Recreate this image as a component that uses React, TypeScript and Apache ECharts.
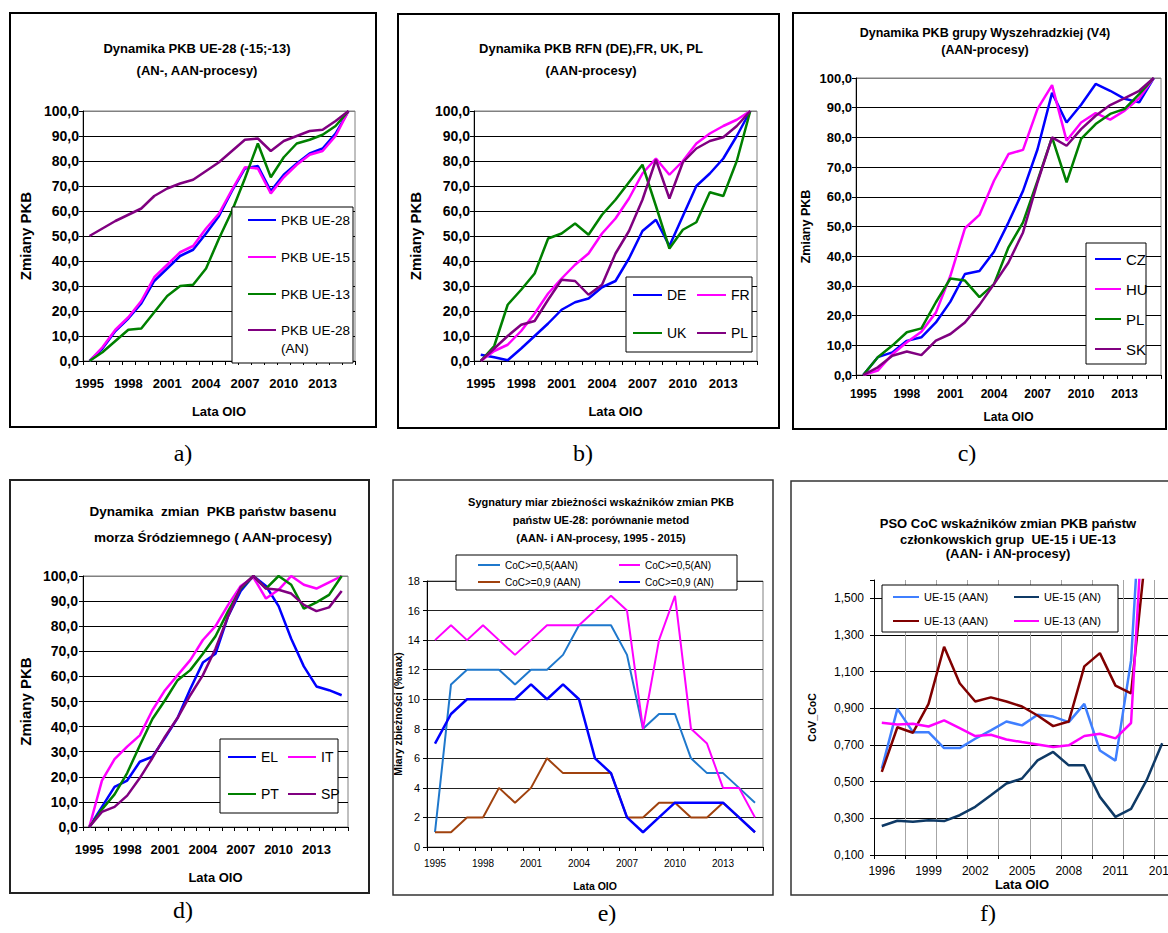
import React, { useEffect, useRef } from 'react';
import * as echarts from 'echarts';

const SANS = "'Liberation Sans', Arial, sans-serif";
const SERIF = "'Liberation Serif', 'Times New Roman', serif";

// ---------- categories ----------
const years95 = ['1995', '1996', '1997', '1998', '1999', '2000', '2001', '2002', '2003', '2004', '2005', '2006', '2007', '2008', '2009', '2010', '2011', '2012', '2013', '2014', '2015'];
const years96 = ['1996', '1997', '1998', '1999', '2000', '2001', '2002', '2003', '2004', '2005', '2006', '2007', '2008', '2009', '2010', '2011', '2012', '2013', '2014'];

// ---------- a) ----------
const aUE28 = [0, 5, 12, 17, 23, 32, 37, 42, 44.5, 51, 58, 68, 77, 78, 68, 74.5, 79, 83, 85, 91, 100];
const aUE15 = [0, 5.5, 12.5, 17.5, 24, 33.5, 38.5, 43.5, 46, 53, 59, 68.5, 77.5, 77, 67, 73.5, 78.5, 82.5, 84, 90, 100];
const aUE13 = [0, 3.5, 8, 12.5, 13, 19.5, 26, 30, 30.5, 37, 49, 60, 73, 87, 73.5, 81.5, 87, 88.5, 90.5, 94, 100];
const aUE28AN = [50, 53, 56, 58.5, 61, 66, 69, 71, 72.5, 76, 79.5, 84, 88.5, 89, 84, 88, 90, 92, 92.5, 96, 100];

// ---------- b) ----------
const bDE = [2.5, 1.5, 0.3, 5, 10, 15, 20.5, 23.5, 25, 29.5, 32, 41, 52, 56.5, 46, 58, 70, 75, 81, 90, 100];
const bFR = [0, 4, 6.5, 12, 19, 27, 33, 38.5, 43, 51, 57, 65, 75, 81, 74.5, 80, 87, 91, 94, 96.5, 100];
const bUK = [0, 6, 22.5, 28.5, 35, 49, 51, 55, 50.5, 58.5, 64.5, 71.5, 78.5, 62, 45, 52.5, 55.5, 67.5, 66, 80, 100];
const bPL = [0, 5, 10, 14.5, 16, 24.5, 32.5, 32, 26.5, 30.5, 43, 52, 64.5, 80.5, 65, 79.5, 85, 88, 89.5, 94, 100];

// ---------- c) ----------
const cCZ = [0, 6, 7.6, 11.5, 12.7, 17.7, 24.7, 34, 35, 41.5, 51.4, 62, 76, 95, 85, 91, 98, 95.7, 93, 91.8, 100];
const cHU = [0, 1.5, 7, 11, 14.6, 21, 33.4, 49.4, 53.9, 65.4, 74.4, 75.8, 89.6, 97.6, 78.9, 85, 88.2, 86, 89, 93.2, 100];
const cPL = [0, 6, 9.9, 14.4, 15.7, 24.5, 32.5, 31.8, 26.2, 30.6, 43, 51.4, 65.4, 80, 64.9, 79.5, 84.5, 87.9, 89.6, 94.6, 100];
const cSK = [0, 2.6, 6.5, 7.9, 6.7, 11.6, 13.8, 17.7, 23.6, 30.6, 37.9, 48, 64.9, 80, 77.2, 82.8, 87.3, 90.9, 93.2, 95.7, 100];

// ---------- d) ----------
const dEL = [0, 8, 16, 18.5, 26, 28, 35.5, 43.5, 55, 65.5, 69, 84, 94, 100, 96, 88, 75, 64, 56, 54.5, 52.5];
const dIT = [0, 18.5, 27, 32, 36.5, 46.5, 54.5, 60.5, 66.5, 74.5, 80, 88.5, 96, 99.5, 91, 94.5, 100, 96.5, 95, 97.5, 100];
const dPT = [0, 7, 13, 21.5, 32.5, 43, 50.5, 58.5, 62.5, 69, 76, 86, 95, 100, 95, 100, 96.5, 87, 89.5, 92.5, 100];
const dSP = [0, 6, 8, 12.5, 19.5, 27.5, 36, 43.5, 52.5, 60.5, 71, 84, 95.5, 100, 95, 94.5, 93, 88.5, 86, 87.5, 94];

// ---------- e) ----------
const eCoC05AAN = [1, 11, 12, 12, 12, 11, 12, 12, 13, 15, 15, 15, 13, 8, 9, 9, 6, 5, 5, 4, 3];
const eCoC05AN = [14, 15, 14, 15, 14, 13, 14, 15, 15, 15, 16, 17, 16, 8, 14, 17, 8, 7, 4, 4, 2];
const eCoC09AAN = [1, 1, 2, 2, 4, 3, 4, 6, 5, 5, 5, 5, 2, 2, 3, 3, 2, 2, 3, 2, 1];
const eCoC09AN = [7, 9, 10, 10, 10, 10, 11, 10, 11, 10, 6, 5, 2, 1, 2, 3, 3, 3, 3, 2, 1];

// ---------- f) ----------
const fUE15AAN = [0.571, 0.897, 0.77, 0.77, 0.683, 0.683, 0.734, 0.78, 0.828, 0.807, 0.865, 0.855, 0.825, 0.924, 0.67, 0.615, 1.16, 2.6, 2.9];
const fUE15AN = [0.258, 0.287, 0.281, 0.29, 0.285, 0.317, 0.363, 0.426, 0.49, 0.517, 0.616, 0.662, 0.589, 0.589, 0.417, 0.308, 0.352, 0.508, 0.71];
const fUE13AAN = [0.553, 0.797, 0.767, 0.924, 1.236, 1.037, 0.937, 0.96, 0.937, 0.91, 0.861, 0.803, 0.828, 1.129, 1.201, 1.024, 0.982, 1.8, 2.0];
const fUE13AN = [0.821, 0.812, 0.816, 0.801, 0.834, 0.792, 0.749, 0.756, 0.73, 0.716, 0.703, 0.689, 0.698, 0.749, 0.761, 0.736, 0.82, 2.3, 2.5];

// ---------- helpers ----------
const BLUE = '#0000FF';
const MAGENTA = '#FF00FF';
const GREEN = '#008000';
const PURPLE = '#800080';

const ln = (name: string, data: number[], color: string, width = 2.5) => ({
  type: 'line', name, data, symbol: 'none', showSymbol: false, color,
  lineStyle: { color, width }, itemStyle: { color }, silent: true, z: 2,
});

const txt = (text: string, x: number, y: number, fs: number, fw: any = 'bold', ff = SANS) => ({
  type: 'text', x, y, z: 6, silent: true,
  style: { text, fontSize: fs, fontWeight: fw, fontFamily: ff, fill: '#000', align: 'center', verticalAlign: 'middle' },
});

const box = (x: number, y: number, w: number, h: number, stroke: string, lw: number, fill = 'none', z = 6) => ({
  type: 'rect', z, silent: true, shape: { x, y, width: w, height: h }, style: { fill, stroke, lineWidth: lw },
});

const lg = (left: number, top: number, names: any[], o: any) => ({
  orient: 'vertical', left, top, padding: 0, data: names, selectedMode: false,
  itemWidth: o.iw, itemHeight: o.ih, itemGap: o.gap,
  itemStyle: { opacity: 0 },
  textStyle: { color: '#000', fontSize: o.fs, lineHeight: o.ih, fontFamily: SANS },
  formatter: o.formatter, z: 5,
});

const grid = (left: number, top: number, width: number, height: number, show = true) => ({
  left, top, width, height, show, borderColor: '#808080', borderWidth: 1, backgroundColor: 'transparent',
  containLabel: false, outerBoundsMode: 'none',
});

const xCat = (data: string[], o: any) => ({
  type: 'category', data, boundaryGap: true,
  axisLine: { show: true, onZero: false, lineStyle: { color: '#000', width: 1 } },
  axisTick: { show: true, interval: o.tickInterval ?? 0, length: 4, lineStyle: { color: '#000' } },
  axisLabel: { interval: 2, margin: o.margin, color: '#000', fontSize: o.fs, fontWeight: o.fw, fontFamily: SANS },
  splitLine: o.split ? { show: true, interval: 1, lineStyle: { color: '#a6a6a6', width: 1 } } : { show: false },
  name: 'Lata OIO', nameLocation: 'middle', nameGap: o.nameGap, nameMoveOverlap: false,
  nameTextStyle: { color: '#000', fontSize: o.nfs, fontWeight: 'bold', fontFamily: SANS },
});

const yVal = (o: any) => ({
  type: 'value', min: o.min, max: o.max, interval: o.interval,
  axisLine: { show: true, lineStyle: { color: '#000', width: 1 } },
  axisTick: { show: true, length: 4, lineStyle: { color: '#000' } },
  axisLabel: { formatter: o.formatter, color: '#000', fontSize: o.fs, fontWeight: o.fw, fontFamily: SANS, margin: o.margin },
  splitLine: { show: true, lineStyle: { color: o.splitColors, width: 1 } },
  name: o.name, nameLocation: 'middle', nameGap: o.nameGap, nameMoveOverlap: false,
  nameTextStyle: { color: '#000', fontSize: o.nfs, fontWeight: 'bold', fontFamily: SANS },
});

const pkbFmt = (v: number) => v.toFixed(1).replace('.', ',');
const pkbSplit = ['#000', '#000', '#000', '#000', '#000', '#000', '#000', '#000', '#000', '#000', '#808080'];

// ---------- options ----------
const optA = {
  animation: false, backgroundColor: 'transparent',
  grid: grid(83, 111, 272, 250),
  xAxis: xCat(years95, { margin: 16, fs: 13, fw: 'bold', nameGap: 44, nfs: 13 }),
  yAxis: yVal({ min: 0, max: 100, interval: 10, formatter: pkbFmt, fs: 14, fw: 'bold', margin: 4, splitColors: pkbSplit, name: 'Zmiany PKB', nameGap: 50, nfs: 15 }),
  legend: [
    lg(247, 211, ['PKB UE-28', 'PKB UE-15', 'PKB UE-13'], { iw: 28, ih: 18, gap: 19, fs: 13.5 }),
    lg(247, 303, ['PKB UE-28 (AN)'], {
      iw: 28, ih: 18, gap: 19, fs: 13.5,
      formatter: (n: string) => (n === 'PKB UE-28 (AN)' ? ' \nPKB UE-28\n(AN)' : n),
    }),
  ],
  series: [
    ln('PKB UE-28', aUE28, BLUE),
    ln('PKB UE-15', aUE15, MAGENTA),
    ln('PKB UE-13', aUE13, GREEN),
    ln('PKB UE-28 (AN)', aUE28AN, PURPLE),
  ],
  graphic: [
    box(10, 13, 366, 414, '#000', 2),
    txt('Dynamika PKB UE-28 (-15;-13)', 197, 48, 13),
    txt('(AN-, AAN-procesy)', 197, 70, 13),
    txt('a)', 183, 453, 24, 'normal', SERIF),
    box(232, 207, 121, 156, '#000', 1, '#fff', 3),
  ],
};

const optB = {
  animation: false, backgroundColor: 'transparent',
  grid: grid(474, 111, 283, 250),
  xAxis: xCat(years95, { margin: 16, fs: 13, fw: 'bold', nameGap: 44, nfs: 13 }),
  yAxis: yVal({ min: 0, max: 100, interval: 10, formatter: pkbFmt, fs: 14, fw: 'bold', margin: 4, splitColors: pkbSplit, name: 'Zmiany PKB', nameGap: 51, nfs: 15 }),
  legend: [
    lg(632, 286, ['DE', 'UK'], { iw: 29, ih: 18, gap: 20, fs: 14 }),
    lg(696, 286, ['FR', 'PL'], { iw: 29, ih: 18, gap: 20, fs: 14 }),
  ],
  series: [
    ln('DE', bDE, BLUE),
    ln('FR', bFR, MAGENTA),
    ln('UK', bUK, GREEN),
    ln('PL', bPL, PURPLE),
  ],
  graphic: [
    box(398, 14, 381, 414, '#000', 2),
    txt('Dynamika PKB RFN (DE),FR, UK, PL', 591, 48, 13),
    txt('(AAN-procesy)', 591, 70, 13),
    txt('b)', 583, 453, 24, 'normal', SERIF),
    box(626, 277, 126, 75, '#000', 1, '#fff', 3),
  ],
};

const optC = {
  animation: false, backgroundColor: 'transparent',
  grid: grid(856, 78, 305, 297),
  xAxis: xCat(years95, { margin: 13, fs: 12, fw: 'bold', nameGap: 36, nfs: 12 }),
  yAxis: yVal({ min: 0, max: 100, interval: 10, formatter: pkbFmt, fs: 13, fw: 'bold', margin: 4, splitColors: pkbSplit, name: 'Zmiany PKB', nameGap: 44, nfs: 12.5 }),
  legend: [
    lg(1094, 250, ['CZ', 'HU', 'PL', 'SK'], { iw: 26, ih: 18, gap: 12, fs: 15 }),
  ],
  series: [
    ln('CZ', cCZ, BLUE),
    ln('HU', cHU, MAGENTA),
    ln('PL', cPL, GREEN),
    ln('SK', cSK, PURPLE),
  ],
  graphic: [
    box(793, 13, 373, 416, '#000', 2),
    txt('Dynamika PKB grupy Wyszehradzkiej (V4)', 985, 33, 12.5),
    txt('(AAN-procesy)', 985, 50, 12.5),
    txt('c)', 967, 453, 24, 'normal', SERIF),
    box(1086, 243, 60, 121, '#000', 1, '#fff', 3),
  ],
};

const optD = {
  animation: false, backgroundColor: 'transparent',
  grid: grid(83, 576, 265, 251),
  xAxis: xCat(years95, { margin: 16, fs: 13, fw: 'bold', nameGap: 44, nfs: 13 }),
  yAxis: yVal({ min: 0, max: 100, interval: 10, formatter: pkbFmt, fs: 14, fw: 'bold', margin: 5, splitColors: pkbSplit, name: 'Zmiany PKB', nameGap: 50, nfs: 15 }),
  legend: [
    lg(227, 748, ['EL', 'PT'], { iw: 28, ih: 18, gap: 19, fs: 14 }),
    lg(287, 748, ['IT', 'SP'], { iw: 28, ih: 18, gap: 19, fs: 14 }),
  ],
  series: [
    ln('EL', dEL, BLUE),
    ln('IT', dIT, MAGENTA),
    ln('PT', dPT, GREEN),
    ln('SP', dSP, PURPLE),
  ],
  graphic: [
    box(10, 480, 359, 413, '#222', 2),
    txt('Dynamika  zmian  PKB państw basenu', 213, 511, 13.5),
    txt('morza Śródziemnego ( AAN-procesy)', 213, 537, 13.5),
    txt('d)', 183, 910, 24, 'normal', SERIF),
    box(220, 739, 118, 74, '#000', 1, '#fff', 3),
  ],
};

const optE = {
  animation: false, backgroundColor: 'transparent',
  grid: grid(427, 581, 336, 266),
  xAxis: xCat(years95, { margin: 11, fs: 10, fw: 'normal', nameGap: 33, nfs: 10.5 }),
  yAxis: yVal({ min: 0, max: 18, interval: 2, formatter: (v: number) => String(v), fs: 11, fw: 'normal', margin: 7, splitColors: ['#222'], name: 'Miary zbieżności (%max)', nameGap: 24, nfs: 10.5 }),
  legend: [
    lg(477, 559, ['CoC>=0,5(AAN)', 'CoC>=0,9 (AAN)'], { iw: 22, ih: 12, gap: 5, fs: 10 }),
    lg(618, 559, ['CoC>=0,5(AN)', 'CoC>=0,9 (AN)'], { iw: 21, ih: 12, gap: 5, fs: 10 }),
  ],
  series: [
    ln('CoC>=0,5(AAN)', eCoC05AAN, '#1F78CC', 2),
    ln('CoC>=0,5(AN)', eCoC05AN, MAGENTA, 2),
    ln('CoC>=0,9 (AAN)', eCoC09AAN, '#A0420E', 2),
    ln('CoC>=0,9 (AN)', eCoC09AN, BLUE, 2.5),
  ],
  graphic: [
    box(393, 480, 380, 415, '#333', 1.5),
    txt('Sygnatury miar zbieżności wskaźników zmian PKB', 601, 502, 11),
    txt('państw UE-28: porównanie metod', 601, 520, 11),
    txt('(AAN- i AN-procesy, 1995 - 2015)', 601, 538, 11),
    txt('e)', 607, 913, 24, 'normal', SERIF),
    box(456, 555, 281, 35, '#000', 1, '#fff', 3),
  ],
};

const fSplit = ['#000', '#000', '#000', '#000', '#000', '#000', '#000', '#000', 'rgba(0,0,0,0)'];
const optF = {
  animation: false, backgroundColor: 'transparent',
  grid: grid(874, 580, 296, 275, false),
  xAxis: xCat(years96, { margin: 10, fs: 12, fw: 'normal', nameGap: 23, nfs: 13, split: true, tickInterval: 1 }),
  yAxis: yVal({
    min: 0.1, max: 1.6, interval: 0.2,
    formatter: (v: number) => (v > 1.55 ? '' : v.toFixed(3).replace('.', ',')),
    fs: 12, fw: 'normal', margin: 10, splitColors: fSplit, name: 'CoV_CoC', nameGap: 57, nfs: 10.5,
  }),
  legend: [
    lg(892, 590, ['UE-15 (AAN)', 'UE-13 (AAN)'], { iw: 26, ih: 14, gap: 10, fs: 11 }),
    lg(1013, 590, ['UE-15 (AN)', 'UE-13 (AN)'], { iw: 25, ih: 14, gap: 10, fs: 11 }),
  ],
  series: [
    ln('UE-15 (AAN)', fUE15AAN, '#3F7FFF', 2.5),
    ln('UE-15 (AN)', fUE15AN, '#0F3A66', 2.5),
    ln('UE-13 (AAN)', fUE13AAN, '#800000', 2.5),
    ln('UE-13 (AN)', fUE13AN, MAGENTA, 2.5),
  ],
  graphic: [
    box(791, 481, 420, 414, '#333', 1.5),
    txt('PSO CoC wskaźników zmian PKB państw', 1008, 523, 13),
    txt('członkowskich grup  UE-15 i UE-13', 1008, 539, 13),
    txt('(AAN- i AN-procesy)', 1008, 553, 13),
    txt('f)', 988, 913, 24, 'normal', SERIF),
    box(882, 585, 236, 47, '#000', 1, '#fff', 3),
  ],
};

function Chart({ option, width, height }: { option: any; width: number; height: number }) {
  const ref = useRef<HTMLDivElement>(null);
  useEffect(() => {
    if (!ref.current) return;
    const c = echarts.init(ref.current, null, { renderer: 'svg', width, height });
    c.setOption(option);
    return () => c.dispose();
  }, [option, width, height]);
  return <div ref={ref} style={{ position: 'absolute', left: 0, top: 0, width, height }} />;
}

export default function App() {
  return (
    <div style={{ position: 'absolute', left: 0, top: 0, width: 1168, height: 933, overflow: 'hidden', background: '#fff' }}>
      <Chart option={optA} width={1168} height={933} />
      <Chart option={optB} width={1168} height={933} />
      <Chart option={optC} width={1168} height={933} />
      <Chart option={optD} width={1168} height={933} />
      <Chart option={optE} width={1168} height={933} />
      <Chart option={optF} width={1230} height={933} />
    </div>
  );
}
